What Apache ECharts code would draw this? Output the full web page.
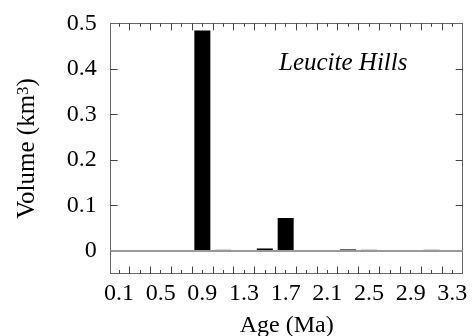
<!DOCTYPE html>
<html>
<head>
<meta charset="utf-8">
<script src="https://cdn.jsdelivr.net/npm/echarts@6/dist/echarts.min.js"></script>
<style>html,body{margin:0;padding:0;background:#fff;}#c{width:473px;height:336px;}</style>
</head>
<body>
<div id="c"></div>
<script>
// Data
const ages = [0.9, 1.1, 1.5, 1.7, 2.1, 2.3, 2.5, 3.1];
const volumes = [0.484, 0.002, 0.005, 0.072, 0.001, 0.003, 0.002, 0.002];

// Axis ticks / labels
const xLabels = [0.1, 0.5, 0.9, 1.3, 1.7, 2.1, 2.5, 2.9, 3.3];
const xTallTicks = [0.2, 0.4, 0.6, 0.8, 1.0, 1.2, 1.4, 1.6, 1.8, 2.0, 2.2, 2.4, 2.6, 2.8, 3.0, 3.2];
const xShortTicks = [0.1, 0.3, 0.5, 0.7, 0.9, 1.1, 1.3, 1.5, 1.7, 1.9, 2.1, 2.3, 2.5, 2.7, 2.9, 3.1, 3.3];
const yLabels = [0, 0.1, 0.2, 0.3, 0.4, 0.5];
const yTicks = [0.1, 0.2, 0.3, 0.4];

const FONT = "'Liberation Serif', 'Times New Roman', serif";
const frameColor = '#666';

function xAxisDef(pos, ticks, len, showLine, withLabels) {
  return {
    type: 'value', position: pos, min: 0.02, max: 3.4,
    axisLine: { show: showLine, onZero: false, lineStyle: { color: frameColor, width: 1 } },
    axisTick: { show: true, inside: true, length: len, customValues: ticks, lineStyle: { color: '#444', width: 1 } },
    axisLabel: withLabels ? {
      show: true, customValues: xLabels, formatter: v => v.toFixed(1),
      fontFamily: FONT, fontSize: 24, color: '#000', margin: 8
    } : { show: false },
    splitLine: { show: false },
    name: withLabels ? 'Age (Ma)' : '',
    nameLocation: 'middle', nameGap: 40,
    nameTextStyle: { fontFamily: FONT, fontSize: 24, color: '#000' }
  };
}
function yAxisDef(pos, withLabels) {
  return {
    type: 'value', position: pos, min: -0.05, max: 0.5,
    axisLine: { show: true, onZero: false, lineStyle: { color: frameColor, width: 1 } },
    axisTick: { show: true, inside: true, length: 7, customValues: yTicks, lineStyle: { color: '#444', width: 1 } },
    axisLabel: withLabels ? {
      show: true, customValues: yLabels, formatter: v => (v === 0 ? '0' : v.toFixed(1)),
      fontFamily: FONT, fontSize: 24, color: '#000', margin: 14
    } : { show: false },
    splitLine: { show: false },
    name: withLabels ? 'Volume (km{sup|3})' : '',
    nameLocation: 'middle', nameGap: 70, nameRotate: 90,
    nameTextStyle: {
      fontFamily: FONT, fontSize: 25, color: '#000',
      rich: { sup: { fontFamily: FONT, fontSize: 17, color: '#000', verticalAlign: 'top', padding: [0, 0, 9, 0] } }
    }
  };
}

const chart = echarts.init(document.getElementById('c'), null, { renderer: 'canvas' });
chart.setOption({
  animation: false,
  backgroundColor: '#fff',
  grid: { left: 110.7, right: 10.3, top: 23.3, bottom: 62.5, containLabel: false, outerBoundsMode: 'none' },
  xAxis: [
    xAxisDef('bottom', xTallTicks, 7, true, true),
    xAxisDef('bottom', xShortTicks, 3.5, false, false),
    xAxisDef('top', xTallTicks, 7, true, false),
    xAxisDef('top', xShortTicks, 3.5, false, false)
  ],
  yAxis: [yAxisDef('left', true), yAxisDef('right', false)],
  graphic: [{
    type: 'text', left: 279, top: 51,
    style: { text: 'Leucite Hills', fontFamily: FONT, fontStyle: 'italic', fontSize: 25, fill: '#000' }
  }],
  series: [{
    type: 'bar', xAxisIndex: 0, yAxisIndex: 0, barWidth: 16,
    itemStyle: { color: '#000' },
    data: ages.map((a, i) => [a, volumes[i]]),
    markLine: {
      silent: true, symbol: 'none', label: { show: false },
      lineStyle: { color: '#999', width: 2, type: 'solid' },
      data: [{ yAxis: 0 }]
    }
  }]
});
</script>
</body>
</html>
